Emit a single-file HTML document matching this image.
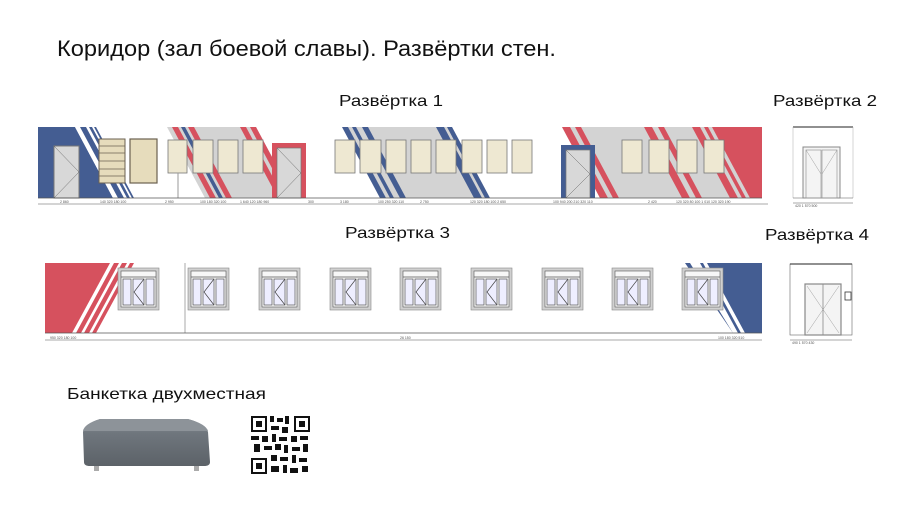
<!DOCTYPE html>
<html><head><meta charset="utf-8"><style>
html,body{margin:0;padding:0;background:#fff;width:900px;height:506px;overflow:hidden}
svg{display:block}
text{font-family:"Liberation Sans","Noto Sans CJK SC",sans-serif}
</style></head><body>
<svg width="900" height="506" viewBox="0 0 900 506" xmlns="http://www.w3.org/2000/svg">
<defs>
<g id="w"><rect x="0" y="0" width="41" height="42" fill="#d0d0d0" stroke="#888" stroke-width="0.6"/><rect x="3" y="3" width="35" height="36" fill="#f7f7f7" stroke="#555" stroke-width="0.6"/><line x1="3" y1="9" x2="38" y2="9" stroke="#555" stroke-width="0.8"/><rect x="5" y="11" width="8" height="26" fill="#eef" stroke="#555" stroke-width="0.7"/><rect x="15" y="11" width="11" height="26" fill="#eef" stroke="#555" stroke-width="0.7"/><rect x="28" y="11" width="8" height="26" fill="#eef" stroke="#555" stroke-width="0.7"/><polyline points="26,11 16,24 26,37" fill="none" stroke="#444" stroke-width="0.7"/></g>
<linearGradient id="b" x1="0" y1="0" x2="0" y2="1"><stop offset="0" stop-color="#8a9096"/><stop offset="0.3" stop-color="#6f767d"/><stop offset="1" stop-color="#5c6268"/></linearGradient>
</defs>
<text x="57" y="56" font-size="22" textLength="499" lengthAdjust="spacingAndGlyphs" fill="#111">Коридор (зал боевой славы). Развёртки стен.</text>
<text x="339" y="106" font-size="16" textLength="104" lengthAdjust="spacingAndGlyphs" fill="#111">Развёртка 1</text>
<text x="773" y="106" font-size="16" textLength="104" lengthAdjust="spacingAndGlyphs" fill="#111">Развёртка 2</text>
<text x="345" y="238" font-size="16" textLength="105" lengthAdjust="spacingAndGlyphs" fill="#111">Развёртка 3</text>
<text x="765" y="240" font-size="16" textLength="104" lengthAdjust="spacingAndGlyphs" fill="#111">Развёртка 4</text>
<text x="67" y="399" font-size="16" textLength="199" lengthAdjust="spacingAndGlyphs" fill="#111">Банкетка двухместная</text>

<!-- Развёртка 1 -->
<g>
<polygon points="38,127 75,127 113,198 38,198" fill="#445d92"/>
<polygon points="75,127 80,127 118,198 113,198" fill="#fff"/>
<polygon points="80,127 86,127 124,198 118,198" fill="#445d92"/>
<polygon points="89,127 92,127 130,198 127,198" fill="#445d92"/>
<polygon points="94,127 96,127 134,198 132,198" fill="#445d92"/>
<rect x="54" y="146" width="25" height="52" fill="#d8d8d8" stroke="#777" stroke-width="1"/>
<line x1="54" y1="146" x2="79" y2="172" stroke="#666" stroke-width="0.5"/><line x1="79" y1="172" x2="54" y2="198" stroke="#666" stroke-width="0.5"/>
<polygon points="167,127 256,127 294,198 205,198" fill="#d3d3d3"/>
<polygon points="172,127 178,127 216,198 210,198" fill="#d6515e"/>
<polygon points="181,127 185,127 223,198 219,198" fill="#445d92"/>
<polygon points="188,127 194,127 232,198 226,198" fill="#d6515e"/>
<polygon points="240,127 246,127 284,198 278,198" fill="#d6515e"/>
<polygon points="250,127 256,127 294,198 288,198" fill="#d6515e"/>
<rect x="272" y="143" width="34" height="55" fill="#d6515e"/>
<rect x="277" y="148" width="24" height="50" fill="#d8d8d8" stroke="#777" stroke-width="0.7"/>
<line x1="277" y1="148" x2="301" y2="173" stroke="#666" stroke-width="0.5"/><line x1="301" y1="173" x2="277" y2="198" stroke="#666" stroke-width="0.5"/>
<polygon points="342,127 452,127 490,198 380,198" fill="#d3d3d3"/>
<polygon points="342,127 348,127 386,198 380,198" fill="#445d92"/>
<polygon points="352,127 356,127 394,198 390,198" fill="#445d92"/>
<polygon points="362,127 368,127 406,198 400,198" fill="#445d92"/>
<polygon points="436,127 444,127 482,198 474,198" fill="#445d92"/>
<polygon points="447,127 452,127 490,198 485,198" fill="#445d92"/>
<polygon points="562,127 762,127 762,198 600,198" fill="#d3d3d3"/>
<polygon points="562,127 570,127 608,198 600,198" fill="#d6515e"/>
<polygon points="575,127 581,127 619,198 613,198" fill="#d6515e"/>
<polygon points="644,127 652,127 690,198 682,198" fill="#d6515e"/>
<polygon points="658,127 664,127 702,198 696,198" fill="#d6515e"/>
<polygon points="692,127 700,127 738,198 730,198" fill="#d6515e"/>
<polygon points="704,127 708,127 746,198 742,198" fill="#d6515e"/>
<polygon points="712,127 762,127 762,198 750,198" fill="#d6515e"/>
<rect x="561" y="145" width="34" height="53" fill="#445d92"/>
<rect x="566" y="150" width="24" height="48" fill="#d8d8d8" stroke="#777" stroke-width="0.7"/>
<line x1="566" y1="150" x2="590" y2="174" stroke="#666" stroke-width="0.5"/><line x1="590" y1="174" x2="566" y2="198" stroke="#666" stroke-width="0.5"/>
<rect x="99" y="139" width="26" height="44" fill="#e6dcbc" stroke="#6b6150" stroke-width="1"/>
<g stroke="#6b6150" stroke-width="0.7"><line x1="99" y1="146" x2="125" y2="146"/><line x1="99" y1="153" x2="125" y2="153"/><line x1="99" y1="161" x2="125" y2="161"/><line x1="99" y1="169" x2="125" y2="169"/><line x1="99" y1="176" x2="125" y2="176"/></g>
<rect x="130" y="139" width="27" height="44" fill="#e6dcbc" stroke="#6b6150" stroke-width="1.2"/>
<g fill="#eee8d2" stroke="#777" stroke-width="0.8">
<rect x="168" y="140" width="19" height="33"/><rect x="193" y="140" width="20" height="33"/><rect x="218" y="140" width="20" height="33"/><rect x="243" y="140" width="20" height="33"/>
<rect x="335" y="140" width="20" height="33"/><rect x="360" y="140" width="21" height="33"/><rect x="386" y="140" width="20" height="33"/><rect x="411" y="140" width="20" height="33"/><rect x="436" y="140" width="20" height="33"/><rect x="462" y="140" width="20" height="33"/><rect x="487" y="140" width="20" height="33"/><rect x="512" y="140" width="20" height="33"/>
<rect x="622" y="140" width="20" height="33"/><rect x="649" y="140" width="20" height="33"/><rect x="677" y="140" width="20" height="33"/><rect x="704" y="140" width="20" height="33"/>
</g>
<line x1="178" y1="173" x2="178" y2="198" stroke="#999" stroke-width="1"/>
<line x1="38" y1="198" x2="762" y2="198" stroke="#555" stroke-width="0.8"/>
<line x1="38" y1="204" x2="768" y2="204" stroke="#555" stroke-width="0.6"/>
<g font-size="3.5" fill="#555"><text x="60" y="203">2 860</text><text x="100" y="203">140  320 180  100</text><text x="165" y="203">2 950</text><text x="200" y="203">100  180 320  100</text><text x="240" y="203">1 640  120 180  960</text><text x="308" y="203">300</text><text x="340" y="203">3 180</text><text x="378" y="203">100 250 320 110</text><text x="420" y="203">2 750</text><text x="470" y="203">120 320 180 100  2 650</text><text x="553" y="203">100 940  200 210 320 110</text><text x="648" y="203">2 420</text><text x="676" y="203">120 320 80 100 1 010 120 320 190</text></g>
<line x1="793" y1="127" x2="853" y2="127" stroke="#222" stroke-width="1"/>
<line x1="793" y1="127" x2="793" y2="198" stroke="#aaa" stroke-width="0.5"/><line x1="853" y1="127" x2="853" y2="198" stroke="#aaa" stroke-width="0.5"/>
<line x1="793" y1="198" x2="853" y2="198" stroke="#555" stroke-width="0.6"/>
<rect x="803" y="147" width="37" height="51" fill="#f4f4f4" stroke="#888" stroke-width="1"/>
<rect x="806" y="150" width="15" height="48" fill="none" stroke="#999" stroke-width="0.7"/><rect x="822" y="150" width="15" height="48" fill="none" stroke="#999" stroke-width="0.7"/>
<line x1="806" y1="150" x2="821" y2="174" stroke="#888" stroke-width="0.4"/><line x1="837" y1="150" x2="822" y2="174" stroke="#888" stroke-width="0.4"/>
<line x1="793" y1="203" x2="853" y2="203" stroke="#555" stroke-width="0.5"/>
<text x="795" y="207" font-size="3.5" fill="#555">420    1 570    500</text>
</g>

<!-- Развёртка 3 -->
<g>
<polygon points="45,263 110,263 72,333 45,333" fill="#d6515e"/>
<polygon points="114,263 119,263 81,333 76,333" fill="#d6515e"/>
<polygon points="122,263 127,263 89,333 84,333" fill="#d6515e"/>
<polygon points="130,263 134,263 96,333 92,333" fill="#d6515e"/>
<polygon points="685,263 762,263 762,333 733,333" fill="#445d92"/>
<polygon points="690,263 700,263 738,333 733,333" fill="#fff"/>
<polygon points="703,263 707,263 745,333 741,333" fill="#fff"/>
<use href="#w" x="118" y="268"/><use href="#w" x="188" y="268"/><use href="#w" x="259" y="268"/><use href="#w" x="330" y="268"/><use href="#w" x="400" y="268"/><use href="#w" x="471" y="268"/><use href="#w" x="542" y="268"/><use href="#w" x="612" y="268"/><use href="#w" x="682" y="268"/>
<line x1="45" y1="333" x2="762" y2="333" stroke="#555" stroke-width="0.8"/>
<line x1="45" y1="340" x2="762" y2="340" stroke="#555" stroke-width="0.6"/>
<line x1="185" y1="263" x2="185" y2="333" stroke="#555" stroke-width="0.5"/>
<g font-size="3.5" fill="#555"><text x="50" y="339">950   320 180  100</text><text x="400" y="339">26 150</text><text x="718" y="339">100 180 320  510</text></g>
<rect x="790" y="264" width="62" height="71" fill="none" stroke="#666" stroke-width="0.6"/>
<line x1="790" y1="264" x2="852" y2="264" stroke="#222" stroke-width="1"/>
<rect x="805" y="284" width="36" height="51" fill="#f4f4f4" stroke="#888" stroke-width="1.2"/>
<line x1="823" y1="284" x2="823" y2="335" stroke="#888" stroke-width="0.8"/>
<line x1="807" y1="286" x2="839" y2="333" stroke="#888" stroke-width="0.4"/><line x1="839" y1="286" x2="807" y2="333" stroke="#888" stroke-width="0.4"/>
<rect x="845" y="292" width="6" height="8" fill="none" stroke="#333" stroke-width="0.8"/>
<line x1="790" y1="340" x2="852" y2="340" stroke="#555" stroke-width="0.5"/>
<text x="792" y="344" font-size="3.5" fill="#555">490    1 570    430</text>
</g>

<!-- bench -->
<path d="M100,419 L188,419 Q206,424 208,432 L210,462 Q210,466 204,466 L90,466 Q84,466 84,462 L83,432 Q84,424 100,419 Z" fill="url(#b)"/>
<path d="M100,419 L188,419 Q206,424 208,431 L83,431 Q84,424 100,419 Z" fill="#8d9399"/>
<rect x="94" y="466" width="5" height="5" fill="#aaa"/><rect x="194" y="466" width="5" height="5" fill="#aaa"/>
<!-- QR -->
<rect x="250" y="415" width="60" height="60" fill="#fff"/>
<g fill="#111"><rect x="251" y="416" width="16" height="16"/><rect x="294" y="416" width="16" height="16"/><rect x="251" y="458" width="16" height="16"/></g>
<g fill="#fff"><rect x="253" y="418" width="12" height="12"/><rect x="296" y="418" width="12" height="12"/><rect x="253" y="460" width="12" height="12"/></g>
<g fill="#111"><rect x="256" y="421" width="6" height="6"/><rect x="299" y="421" width="6" height="6"/><rect x="256" y="463" width="6" height="6"/>
<rect x="270" y="416" width="4" height="6"/><rect x="277" y="418" width="6" height="4"/><rect x="285" y="416" width="4" height="8"/><rect x="271" y="426" width="8" height="4"/><rect x="282" y="427" width="6" height="6"/>
<rect x="251" y="436" width="8" height="4"/><rect x="262" y="436" width="6" height="6"/><rect x="272" y="434" width="4" height="8"/><rect x="279" y="437" width="8" height="4"/><rect x="291" y="436" width="6" height="6"/><rect x="300" y="436" width="8" height="4"/>
<rect x="254" y="444" width="6" height="8"/><rect x="264" y="446" width="8" height="4"/><rect x="275" y="444" width="6" height="6"/><rect x="284" y="445" width="4" height="8"/><rect x="292" y="447" width="8" height="4"/><rect x="303" y="444" width="5" height="8"/>
<rect x="271" y="455" width="6" height="6"/><rect x="280" y="457" width="8" height="4"/><rect x="292" y="455" width="4" height="8"/><rect x="299" y="458" width="8" height="4"/>
<rect x="271" y="466" width="8" height="6"/><rect x="283" y="465" width="4" height="8"/><rect x="290" y="468" width="8" height="5"/><rect x="302" y="466" width="6" height="6"/></g>
</svg>
</body></html>
